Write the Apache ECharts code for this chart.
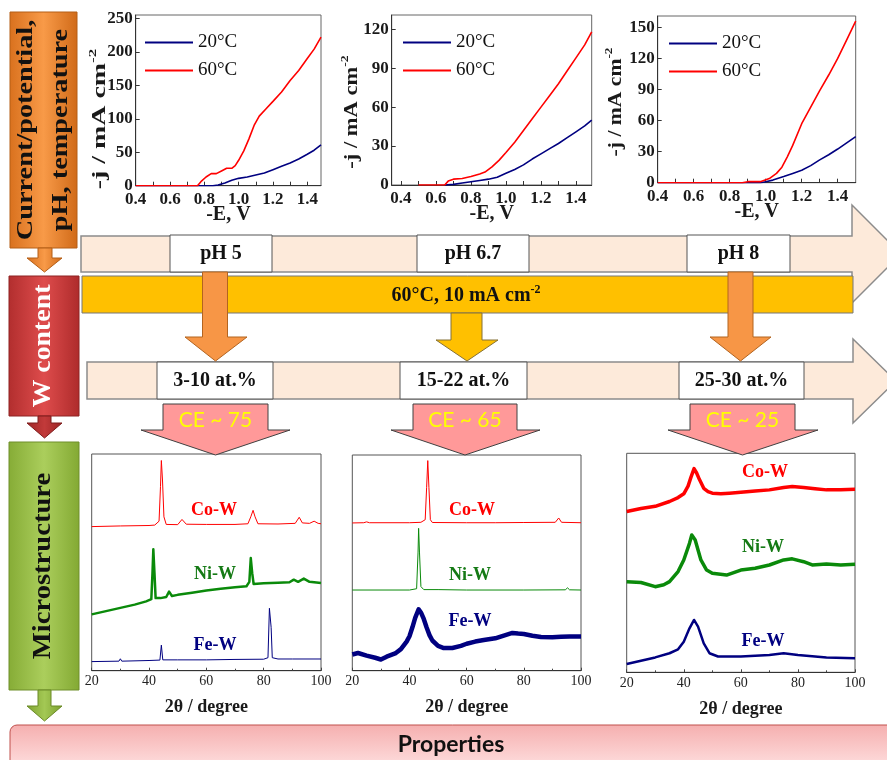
<!DOCTYPE html>
<html><head><meta charset="utf-8">
<script src="https://cdn.jsdelivr.net/npm/echarts@6/dist/echarts.min.js"></script>
<style>html,body{margin:0;padding:0;background:#fff}#c{width:887px;height:760px}</style>
</head><body><div id="c"></div><script>
// ---------- data: polarization curves (-E, V ; -j, mA cm-2) ----------
const legendNames = ['20°C', '60°C'];
const tickE = [0.4, 0.6, 0.8, 1.0, 1.2, 1.4];
const tickEMinor = [0.4, 0.5, 0.6, 0.7, 0.8, 0.9, 1.0, 1.1, 1.2, 1.3, 1.4];
const tickJ1 = [0, 50, 100, 150, 200, 250];
const tickJ2 = [0, 30, 60, 90, 120];
const tickJ3 = [0, 30, 60, 90, 120, 150];
const pH5_20C = [[0.40,0],[0.70,0],[0.85,0],[0.88,1],[0.92,4],[0.96,8],[1.00,11],[1.05,13],[1.10,16],[1.15,19],[1.20,24],[1.25,29],[1.30,34],[1.35,40],[1.40,47],[1.44,53],[1.48,61]];
const pH5_60C = [[0.40,0],[0.70,0],[0.76,0],[0.78,6],[0.81,13],[0.84,18],[0.87,18],[0.90,22],[0.93,26],[0.96,26],[0.98,30],[1.00,38],[1.03,52],[1.06,70],[1.09,90],[1.12,104],[1.16,115],[1.20,126],[1.25,140],[1.30,157],[1.35,172],[1.40,190],[1.44,204],[1.48,222]];
const pH67_20C = [[0.65,0],[0.70,0.5],[0.75,1.5],[0.80,2.5],[0.85,3.5],[0.90,4.5],[0.95,6],[1.00,9],[1.05,12],[1.10,15.5],[1.15,20],[1.20,24],[1.25,28],[1.30,32],[1.35,36.5],[1.40,41],[1.45,45.5],[1.49,50]];
const pH67_60C = [[0.50,0],[0.65,0],[0.67,3],[0.70,4.5],[0.75,5],[0.80,6.5],[0.85,8.5],[0.88,10],[0.92,14],[0.96,19],[1.00,25],[1.05,33],[1.10,42],[1.15,51],[1.20,60],[1.25,69],[1.30,78],[1.35,88],[1.40,98],[1.45,108],[1.49,118]];
const pH8_20C = [[0.40,0],[0.97,0],[1.00,1],[1.04,2.5],[1.10,6],[1.15,9],[1.20,12],[1.25,16.5],[1.30,22],[1.35,27],[1.40,32.5],[1.45,38.5],[1.50,44.5]];
const pH8_60C = [[0.40,0],[0.87,0],[0.90,1],[0.97,1],[1.02,4],[1.06,9],[1.09,15],[1.12,25],[1.15,36],[1.20,57],[1.25,73],[1.30,89],[1.35,104],[1.40,120],[1.45,138],[1.50,156]];

// ---------- data: XRD patterns (2theta, stacked intensity a.u.) ----------
const tick2T = [20, 40, 60, 80, 100];
const xrd1_CoW = [[20,66.5],[30,66.8],[40,67],[42,67.2],[43.5,69],[44,85],[44.3,97],[44.7,88],[45.2,71],[46,67.5],[50,67.4],[51.5,69.8],[53,67.6],[60,67.5],[70,67.5],[74.5,67.8],[75.5,71],[76.3,74],[77,71],[78,67.8],[85,67.7],[91,68],[92.4,70.8],[93.5,68.2],[96,68],[97.6,69],[99,68],[100,67.8]];
const xrd1_NiW = [[20,26],[25,27.5],[30,29],[35,30.5],[39,32],[40.8,33],[41.2,45],[41.5,56],[41.9,45],[42.3,33.5],[44,33.5],[46,34],[47,36.5],[48,34.5],[50,35],[55,36],[60,37],[65,37.8],[70,38.5],[74,39],[75,41],[75.5,52],[76,45],[76.5,40],[80,40.3],[85,40.6],[89,40.8],[90.5,42],[92,41],[94,42.5],[96,41],[100,40.5]];
const xrd1_FeW = [[20,4.2],[29.5,4.4],[30,5.5],[30.5,4.4],[40,4.7],[43.8,4.9],[44.3,11.8],[44.8,5],[50,5],[60,5],[70,5.2],[80,5.3],[81.5,6],[82,28.8],[82.6,20],[83,6],[85,5.4],[90,5.4],[100,5.4]];
const xrd2_CoW = [[20,68.5],[24,68.6],[25,69],[26,68.6],[40,68.6],[44,68.8],[45.5,70],[46,85],[46.4,97.4],[46.8,85],[47.3,70],[48,68.7],[60,68.6],[70,68.6],[80,68.7],[91,68.8],[92.2,70.8],[93.2,68.8],[100,68.6]];
const xrd2_NiW = [[20,37.4],[40,37.4],[42.5,38],[43,55],[43.2,66],[43.5,55],[44,39],[45,37.6],[50,37.6],[60,37.4],[80,37.4],[94.5,37.5],[95.3,38.4],[96,37.5],[100,37.4]];
const xrd2_FeW = [[20,7.5],[22,8.2],[25,7],[28,6],[30,5.2],[32,6.5],[35,8],[37,10],[39,13.5],[40,16],[41,20],[42,24.5],[43.2,28.5],[44,27],[45,24],[46,20],[47,16.5],[48,14],[50,11.5],[52,10.5],[55,10.5],[58,11.5],[60,12.5],[63,13.5],[66,14.2],[70,15],[73,16.3],[76,17.5],[78,17.2],[80,17],[83,16.2],[86,15.6],[90,15.5],[93,15.7],[96,15.8],[100,15.8]];
const xrd3_CoW = [[20,73.4],[25,74.8],[30,75.8],[35,78],[38,79.8],[40,81.5],[41.5,85],[42.5,89],[43.6,93],[44.5,91],[45.5,88],[47,84],[48.5,82.5],[50,81.8],[53,81.5],[56,81.8],[60,82.2],[65,82.8],[70,83.3],[75,84.4],[78,84.8],[82,84.4],[86,83.8],[90,83.3],[95,83.3],[100,83.6]];
const xrd3_NiW = [[20,41.4],[25,41],[30,39.1],[33,40],[35,41.4],[38,46],[40,51.3],[42,58.9],[42.8,62.7],[44,60.4],[46,51.3],[48,46.7],[50,45.2],[55,44.4],[60,46.7],[65,47.5],[70,49],[75,51.3],[78,51.8],[82,50.5],[85,49],[90,49.5],[95,49],[100,49.3]];
const xrd3_FeW = [[20,3.8],[25,5.3],[30,6.8],[35,8.7],[38,10.5],[40,14],[42,20.1],[43.6,23.9],[45,20.9],[47,13.2],[49,8.7],[52,7.2],[60,7.2],[70,7.9],[75,8.7],[80,7.9],[90,6.8],[100,6.4]];

// ---------- labels ----------
const sideLabels = ['Current/potential,\npH, temperature', 'W content', 'Microstructure'];
const pHLabels = ['pH 5', 'pH 6.7', 'pH 8'];
const wLabels = ['3-10 at.%', '15-22 at.%', '25-30 at.%'];
const ceLabels = ['CE ~ 75', 'CE ~ 65', 'CE ~ 25'];
const alloyLabels = ['Co-W', 'Ni-W', 'Fe-W'];
const conditionLabel = '60°C, 10 mA cm{sup|-2}';
const bottomLabel = 'Properties';

const SERIF = 'Liberation Serif';
const chart = echarts.init(document.getElementById('c'), null, {renderer: 'canvas'});

// ---------- layout ----------
const topGrids = [
  {left: 135.7, top: 15, width: 185.3, height: 170.7, xmin: 0.4, xmax: 1.48, ymax: 255, yt: tickJ1, legendLeft: 145},
  {left: 391.7, top: 15, width: 200, height: 170, xmin: 0.347, xmax: 1.49, ymax: 131, yt: tickJ2, legendLeft: 403},
  {left: 657.7, top: 16, width: 198, height: 166.7, xmin: 0.4, xmax: 1.5, ymax: 161, yt: tickJ3, legendLeft: 669}
];
const xrdGrids = [
  {left: 91.7, top: 454, width: 229.3, height: 216.7},
  {left: 352.3, top: 455, width: 228.7, height: 215.7},
  {left: 626.7, top: 453.3, width: 228.3, height: 219}
];
const topData = [[pH5_20C, pH5_60C], [pH67_20C, pH67_60C], [pH8_20C, pH8_60C]];
const xrdData = [[xrd1_CoW, xrd1_NiW, xrd1_FeW], [xrd2_CoW, xrd2_NiW, xrd2_FeW], [xrd3_CoW, xrd3_NiW, xrd3_FeW]];
const xrdColors = ['#ff0000', '#0a8a0a', '#000080'];
const xrdWidths = [[1, 2.5, 1], [1, 1, 4.5], [3.5, 3.5, 2.5]];

const grid = [], xAxis = [], yAxis = [], series = [], legend = [];
topGrids.forEach((g, i) => {
  grid.push({left: g.left, top: g.top, width: g.width, height: g.height, show: true, borderColor: '#666', borderWidth: 1, backgroundColor: 'transparent', outerBoundsMode: 'none'});
  xAxis.push({gridIndex: i, type: 'value', min: g.xmin, max: g.xmax,
    axisLine: {lineStyle: {color: '#333', width: 1}},
    axisTick: {inside: true, length: 4, customValues: tickEMinor, lineStyle: {color: '#333'}},
    axisLabel: {customValues: tickE, formatter: v => v.toFixed(1), margin: 5, fontFamily: SERIF, fontWeight: 'bold', fontSize: 17, color: '#1a1a1a'},
    splitLine: {show: false},
    name: '-E, V', nameLocation: 'middle', nameGap: 19, nameMoveOverlap: false,
    nameTextStyle: {fontFamily: SERIF, fontWeight: 'bold', fontSize: 20, color: '#1a1a1a', verticalAlign: 'top'}
  });
  yAxis.push({gridIndex: i, type: 'value', min: 0, max: g.ymax,
    axisLine: {show: true, lineStyle: {color: '#333', width: 1}},
    axisTick: {show: true, inside: true, length: 4, customValues: g.yt, lineStyle: {color: '#333'}},
    axisLabel: {customValues: g.yt, margin: 3, fontFamily: SERIF, fontWeight: 'bold', fontSize: 17, color: '#1a1a1a'},
    splitLine: {show: false}
  });
  ['#000080', '#ff0000'].forEach((c, k) => {
    series.push({type: 'line', name: legendNames[k], xAxisIndex: i, yAxisIndex: i, data: topData[i][k],
      showSymbol: false, symbol: 'none', lineStyle: {color: c, width: 1.6}, itemStyle: {color: c}, silent: true, animation: false, z: 2 + k});
  });
  legend.push({data: legendNames, left: g.legendLeft, top: g.top + 18, orient: 'vertical', icon: 'rect', itemWidth: 48, itemHeight: 2,
    itemGap: 9, padding: 0, selectedMode: false,
    textStyle: {fontFamily: SERIF, fontSize: 19, color: '#111', lineHeight: 18}});
});
xrdGrids.forEach((g, j) => {
  const i = j + 3;
  grid.push({left: g.left, top: g.top, width: g.width, height: g.height, show: true, borderColor: '#555', borderWidth: 1, outerBoundsMode: 'none'});
  xAxis.push({gridIndex: i, type: 'value', min: 20, max: 100, interval: 20,
    axisLine: {lineStyle: {color: '#333'}},
    axisTick: {inside: true, length: 3, lineStyle: {color: '#444'}},
    minorTick: {show: true, splitNumber: 2, length: 2, lineStyle: {color: '#444'}},
    axisLabel: {margin: 4, fontFamily: SERIF, fontSize: 14, color: '#222', showMinLabel: true, showMaxLabel: true, hideOverlap: false},
    splitLine: {show: false},
    name: '2θ / degree', nameLocation: 'middle', nameGap: 28, nameMoveOverlap: false,
    nameTextStyle: {fontFamily: SERIF, fontWeight: 'bold', fontSize: 18, color: '#1a1a1a', verticalAlign: 'top'}
  });
  yAxis.push({gridIndex: i, type: 'value', min: 0, max: 100, show: false});
  xrdData[j].forEach((d, k) => {
    series.push({type: 'line', name: alloyLabels[k], xAxisIndex: i, yAxisIndex: i, data: d, showSymbol: false, symbol: 'none',
      lineStyle: {color: xrdColors[k], width: xrdWidths[j][k], join: 'round'}, itemStyle: {color: xrdColors[k]}, silent: true, animation: false});
  });
});

// ---------- decorative diagram (graphic) ----------
function hgrad(a, b, c) { return {type: 'linear', x: 0, y: 0, x2: 1, y2: 0, colorStops: [{offset: 0, color: a}, {offset: 0.5, color: b}, {offset: 1, color: c}]}; }
function downArrow(sx1, sx2, y0, yh, hx1, hx2, tipX, tipY) {
  return [[sx1, y0], [sx2, y0], [sx2, yh], [hx2, yh], [tipX, tipY], [hx1, yh], [sx1, yh]];
}
const G = [];
// sidebars
G.push({type: 'rect', shape: {x: 10, y: 12, width: 67, height: 236}, style: {fill: hgrad('#D9711E', '#F89A48', '#D06A18'), stroke: '#B45E16', lineWidth: 1}, z: 1});
G.push({type: 'polygon', shape: {points: downArrow(38, 52, 248, 258, 27, 62, 44.5, 272)}, style: {fill: hgrad('#D9711E', '#F89A48', '#D06A18'), stroke: '#B45E16', lineWidth: 1}, z: 1});
G.push({type: 'rect', shape: {x: 9, y: 276, width: 70, height: 140}, style: {fill: hgrad('#B22E2E', '#DE4C4C', '#AE2B2B'), stroke: '#8E2222', lineWidth: 1}, z: 1});
G.push({type: 'polygon', shape: {points: downArrow(38, 51, 416, 423, 27, 62, 44.5, 438)}, style: {fill: hgrad('#9E2626', '#C23A3A', '#9A2424'), stroke: '#7E1C1C', lineWidth: 1}, z: 1});
G.push({type: 'rect', shape: {x: 9, y: 442, width: 70, height: 248}, style: {fill: hgrad('#86AC36', '#ABCE5C', '#83A933'), stroke: '#6E8F2A', lineWidth: 1}, z: 1});
G.push({type: 'polygon', shape: {points: downArrow(38, 51, 690, 706, 27, 62, 44.5, 721)}, style: {fill: hgrad('#7FA331', '#A3C854', '#7CA02F'), stroke: '#6A8A27', lineWidth: 1}, z: 1});
G.push({type: 'text', x: 43.5, y: 130, rotation: Math.PI / 2, scaleX: 1.18, style: {text: sideLabels[0], fill: '#111', fontFamily: SERIF, fontWeight: 'bold', fontSize: 24, lineHeight: 35, align: 'center', verticalAlign: 'middle'}, z: 5});
G.push({type: 'text', x: 43, y: 346, rotation: Math.PI / 2, scaleX: 1.07, style: {text: sideLabels[1], fill: '#fff', fontFamily: SERIF, fontWeight: 'bold', fontSize: 26, align: 'center', verticalAlign: 'middle'}, z: 5});
G.push({type: 'text', x: 43, y: 566, rotation: Math.PI / 2, scaleX: 1.1, style: {text: sideLabels[2], fill: '#111', fontFamily: SERIF, fontWeight: 'bold', fontSize: 26, align: 'center', verticalAlign: 'middle'}, z: 5});
// properties bar
G.push({type: 'rect', shape: {x: 10, y: 725, width: 892, height: 45, r: 7}, style: {fill: {type: 'linear', x: 0, y: 0, x2: 0, y2: 1, colorStops: [{offset: 0, color: '#F5AFAF'}, {offset: 1, color: '#FFE2E2'}]}, stroke: '#C0504D', lineWidth: 1}, z: 1});
G.push({type: 'text', x: 451, y: 745, style: {text: bottomLabel, fill: '#111', fontFamily: 'Lato', fontWeight: 'bold', fontSize: 23, align: 'center', verticalAlign: 'middle'}, z: 5});
// pH arrow band
G.push({type: 'polygon', shape: {points: [[81, 236], [852, 236], [852, 205], [901, 254], [852, 303], [852, 272], [81, 272]]}, style: {fill: '#FDEADA', stroke: '#8C8C8C', lineWidth: 1.5}, z: 1});
[[170, 102], [417, 112], [687, 103]].forEach((b, i) => {
  G.push({type: 'rect', shape: {x: b[0], y: 235, width: b[1], height: 37}, style: {fill: '#fff', stroke: '#555', lineWidth: 1}, z: 2});
  G.push({type: 'text', x: b[0] + b[1] / 2, y: 254, style: {text: pHLabels[i], fill: '#111', fontFamily: SERIF, fontWeight: 'bold', fontSize: 20, align: 'center', verticalAlign: 'middle'}, z: 3});
});
// yellow condition bar
G.push({type: 'rect', shape: {x: 82, y: 276, width: 771, height: 37}, style: {fill: '#FFC000', stroke: '#777', lineWidth: 1}, z: 3});
G.push({type: 'text', x: 466, y: 296, style: {text: conditionLabel, fill: '#111', fontFamily: SERIF, fontWeight: 'bold', fontSize: 20, lineHeight: 24, align: 'center', verticalAlign: 'middle',
  rich: {sup: {fontSize: 12, lineHeight: 12, verticalAlign: 'top', fontFamily: SERIF, fontWeight: 'bold', fill: '#111'}}}, z: 6});
G.push({type: 'polygon', shape: {points: downArrow(451, 482, 313, 340, 436, 498, 467, 361)}, style: {fill: '#FFC000', stroke: '#857136', lineWidth: 1}, z: 4});
// orange arrows
G.push({type: 'polygon', shape: {points: downArrow(202.5, 227.5, 272, 337, 185, 247, 215.5, 361)}, style: {fill: '#F79646', stroke: '#B3641F', lineWidth: 1}, z: 5});
G.push({type: 'polygon', shape: {points: downArrow(728, 753, 272, 337, 710, 771, 740.5, 361)}, style: {fill: '#F79646', stroke: '#B3641F', lineWidth: 1}, z: 5});
// W content arrow band
G.push({type: 'polygon', shape: {points: [[87, 362], [853, 362], [853, 339], [896, 381], [853, 423], [853, 399], [87, 399]]}, style: {fill: '#FDEADA', stroke: '#8C8C8C', lineWidth: 1.5}, z: 1});
[[157, 116], [400, 127], [679, 125]].forEach((b, i) => {
  G.push({type: 'rect', shape: {x: b[0], y: 362, width: b[1], height: 37}, style: {fill: '#fff', stroke: '#555', lineWidth: 1}, z: 2});
  G.push({type: 'text', x: b[0] + b[1] / 2, y: 381, style: {text: wLabels[i], fill: '#111', fontFamily: SERIF, fontWeight: 'bold', fontSize: 20, align: 'center', verticalAlign: 'middle'}, z: 3});
});
// CE arrows
[[163, 268, 141, 290, 215.5], [413, 517, 391, 540, 465], [690, 795, 668, 818, 742.5]].forEach((a, i) => {
  G.push({type: 'polygon', shape: {points: downArrow(a[0], a[1], 404, 430, a[2], a[3], a[4], 455)}, style: {fill: '#FF9999', stroke: '#404040', lineWidth: 1}, z: 2});
  G.push({type: 'text', x: (a[0] + a[1]) / 2, y: 420, style: {text: ceLabels[i], fill: '#FFFF00', fontFamily: 'Lato', fontSize: 21, align: 'center', verticalAlign: 'middle'}, z: 3});
});
// y-axis titles of polarization plots
[[100, 119, 1.55], [352, 112, 1.25], [616, 102, 1.2]].forEach(p => {
  G.push({type: 'text', x: p[0], y: p[1], rotation: Math.PI / 2, scaleX: p[2], style: {text: '-j / mA cm{sup|-2}', fill: '#1a1a1a', fontFamily: SERIF, fontWeight: 'bold', fontSize: 18, lineHeight: 24, align: 'center', verticalAlign: 'middle',
    rich: {sup: {fontSize: 11, lineHeight: 11, verticalAlign: 'top', fontFamily: SERIF, fontWeight: 'bold', fill: '#1a1a1a'}}}, z: 5});
});
// alloy labels in XRD plots
const alloyPos = [[[214, 510], [215, 574], [215, 645]], [[472, 510], [470, 575], [470, 621]], [[765, 472], [763, 547], [763, 641]]];
alloyPos.forEach(panel => panel.forEach((p, k) => {
  G.push({type: 'text', x: p[0], y: p[1], style: {text: alloyLabels[k], fill: xrdColors[k] === '#0a8a0a' ? '#157a15' : xrdColors[k], fontFamily: SERIF, fontWeight: 'bold', fontSize: 18, align: 'center', verticalAlign: 'middle'}, z: 6});
}));

chart.setOption({
  animation: false,
  backgroundColor: '#ffffff',
  grid, xAxis, yAxis, series, legend,
  graphic: {elements: G}
});
</script></body></html>
